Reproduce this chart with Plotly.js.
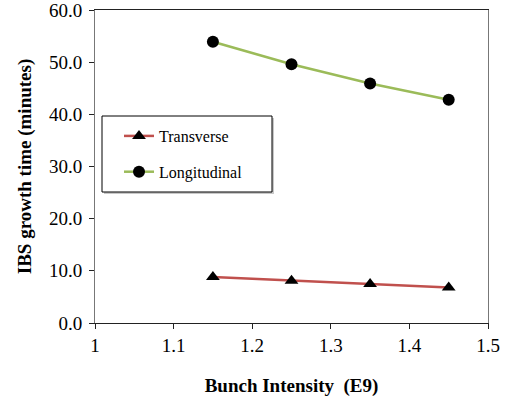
<!DOCTYPE html>
<html>
<head>
<meta charset="utf-8">
<script src="https://cdn.plot.ly/plotly-3.0.1.min.js"></script>
<style>html,body{margin:0;padding:0;background:#fff;}#chart{width:505px;height:402px;}</style>
</head>
<body>
<div id="chart"></div>
<script>
var intensity = [1.15, 1.25, 1.35, 1.45];
var transverse = [8.8, 8.1, 7.5, 6.8];
var longitudinal = [53.9, 49.6, 45.9, 42.8];
var seriesNames = ['Transverse', 'Longitudinal'];
var xTicks = [1, 1.1, 1.2, 1.3, 1.4, 1.5];
var yTicks = [0, 10, 20, 30, 40, 50, 60];

var fontFam = 'Liberation Serif';

var traces = [
  {x: intensity, y: transverse, name: seriesNames[0], mode: 'lines+markers', legendgroup: 'a',
   line: {color: '#C0504D', width: 2.5},
   marker: {symbol: 'triangle-up', size: 12, color: '#000'}},
  {x: intensity, y: longitudinal, name: seriesNames[1], mode: 'lines+markers', legendgroup: 'b',
   line: {color: '#9BBB59', width: 2.5},
   marker: {symbol: 'circle', size: 12, color: '#000'}}
];

function px2x(p){ return (p - 95) / 393; }
function px2y(p){ return (323 - p) / 313; }

var layout = {
  width: 505, height: 402,
  margin: {l: 95, r: 17, t: 10, b: 79},
  paper_bgcolor: '#fff', plot_bgcolor: '#fff',
  font: {family: fontFam, size: 18, color: '#000'},
  showlegend: true,
  shapes: [
    {type: 'rect', xref: 'paper', yref: 'paper', x0: px2x(104), x1: px2x(274), y0: px2y(194), y1: px2y(118),
     line: {width: 0}, fillcolor: '#c8c8c8', layer: 'above'},
    {type: 'rect', xref: 'paper', yref: 'paper', x0: px2x(102), x1: px2x(272), y0: px2y(192), y1: px2y(116),
     line: {color: '#000', width: 1}, fillcolor: '#fff', layer: 'above'}
  ],
  legend: {x: px2x(119), y: px2y(119), xanchor: 'left', yanchor: 'top',
    borderwidth: 0, bgcolor: 'rgba(0,0,0,0)',
    font: {family: fontFam, size: 16, color: '#000'},
    traceorder: 'grouped', tracegroupgap: 12, itemwidth: 30},
  xaxis: {range: [1, 1.5], tickvals: xTicks, ticktext: xTicks.map(String),
    showgrid: false, zeroline: false, showline: true, linecolor: '#222', linewidth: 1,
    mirror: true, ticks: 'outside', ticklen: 5, tickcolor: '#222', ticklabeloverflow: 'allow',
    tickfont: {family: fontFam, size: 19},
    title: {text: '<b>Bunch Intensity  (E9)</b>', font: {family: fontFam, size: 19}, standoff: 23}},
  yaxis: {range: [0, 60], tickvals: yTicks, ticktext: yTicks.map(function(v){return v.toFixed(1);}),
    showgrid: false, zeroline: false, showline: true, linecolor: '#777', linewidth: 1,
    mirror: true, ticks: 'outside', ticklen: 5, tickcolor: '#222', ticklabeloverflow: 'allow',
    ticklabelstandoff: 3,
    tickfont: {family: fontFam, size: 19},
    title: {text: '<b>IBS growth time (minutes)</b>', font: {family: fontFam, size: 19}, standoff: 12}}
};

Plotly.newPlot('chart', traces, layout, {displayModeBar: false, staticPlot: true});
</script>
</body>
</html>
